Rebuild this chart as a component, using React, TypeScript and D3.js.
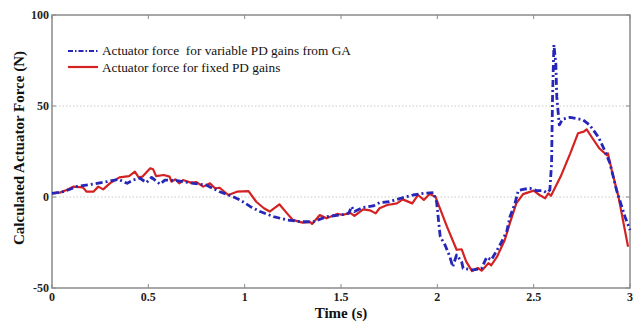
import React from "react";
import * as d3 from "d3";

// Actuator force for variable PD gains from GA (dash-dot blue)
const gaTime = [0, 0.06, 0.128, 0.215, 0.284, 0.345, 0.39, 0.42, 0.457, 0.49, 0.517, 0.56, 0.586, 0.647, 0.733, 0.8, 0.87, 0.94, 0.976, 1.03, 1.08, 1.15, 1.22, 1.29, 1.356, 1.425, 1.495, 1.54, 1.555, 1.57, 1.615, 1.667, 1.7, 1.75, 1.81, 1.875, 1.93, 1.98, 1.996, 2.015, 2.04, 2.065, 2.08, 2.1, 2.126, 2.134, 2.186, 2.23, 2.256, 2.28, 2.325, 2.36, 2.377, 2.403, 2.42, 2.445, 2.48, 2.515, 2.55, 2.567, 2.584, 2.593, 2.598, 2.605, 2.615, 2.62, 2.633, 2.65, 2.69, 2.72, 2.757, 2.79, 2.835, 2.86, 2.896, 2.93, 2.974, 3.0];
const gaForce = [2, 2.9, 5.7, 7.1, 8.4, 9.7, 7.5, 9.3, 10.3, 7.9, 10.8, 7.1, 9.3, 9, 7.5, 6.6, 2.9, 0.2, -1.6, -5.3, -8, -10.8, -12.6, -13.6, -13.6, -10.8, -9.9, -9, -5.3, -8, -5.7, -4.9, -3.1, -2.6, -0.7, 1.1, 2, 2.4, -2.6, -21.8, -26.4, -32.8, -38.3, -31.9, -35.5, -39.2, -40.1, -39.2, -33.1, -34.6, -26.4, -19, -10.8, -3.5, 3.5, 4.2, 4.8, 3.5, 3.5, 2.4, 3.8, 18.5, 55, 83.5, 73.5, 55, 39.6, 42.7, 43.8, 43.2, 42.3, 39.6, 33.1, 27.6, 18.5, 3.8, -10.8, -18.1];

// Actuator force for fixed PD gains (solid red)
const fixedTime = [0, 0.04, 0.076, 0.11, 0.16, 0.18, 0.215, 0.24, 0.266, 0.3, 0.35, 0.4, 0.43, 0.45, 0.47, 0.51, 0.525, 0.54, 0.58, 0.61, 0.62, 0.64, 0.66, 0.68, 0.72, 0.75, 0.785, 0.82, 0.846, 0.87, 0.915, 0.96, 1.02, 1.06, 1.1, 1.13, 1.18, 1.22, 1.25, 1.3, 1.34, 1.35, 1.39, 1.425, 1.48, 1.51, 1.546, 1.57, 1.615, 1.65, 1.68, 1.7, 1.74, 1.79, 1.82, 1.87, 1.9, 1.93, 1.96, 1.99, 2.05, 2.1, 2.126, 2.15, 2.18, 2.21, 2.23, 2.265, 2.28, 2.31, 2.35, 2.376, 2.41, 2.445, 2.5, 2.53, 2.56, 2.576, 2.59, 2.64, 2.69, 2.73, 2.76, 2.775, 2.8, 2.84, 2.88, 2.885, 2.905, 2.94, 2.99];
const fixedForce = [2, 2.4, 3.8, 5.7, 5.3, 2.9, 2.9, 5.7, 4.2, 7.5, 10.8, 11.5, 13.9, 10.8, 11.2, 15.8, 15.2, 11.5, 12.1, 11.2, 8.4, 9.7, 7.5, 9.3, 7.9, 8.2, 5.7, 7.5, 4.8, 5.1, 1.1, 2.9, 3.2, -2.6, -6.2, -8, -4, -9, -12.6, -14.1, -13.7, -14.8, -9.9, -11.7, -9.3, -9.9, -8.6, -10.4, -6.8, -7.3, -9, -6.2, -4.4, -3.5, -1.3, -3.5, 1.1, -1.6, 1.6, 0.2, -16.3, -29, -28.7, -35.5, -40.7, -39, -40.5, -36.4, -37.5, -32.8, -23.6, -14.5, -3.5, 1.6, 3.5, 1.1, -0.7, 2, 0.7, 11.2, 24, 35, 35.9, 37.2, 33.1, 26.8, 23, 24, 14.8, 0.2, -27.3];

const xTicks = [0, 0.5, 1, 1.5, 2, 2.5, 3];
const yTicks = [-50, 0, 50, 100];
const yGrid = [0, 50];

const W = 638;
const H = 322;
const m = { left: 52, right: 8, top: 15, bottom: 34 };

const FONT = "Liberation Serif";

export default function App() {
  const x = d3.scaleLinear().domain([0, 3]).range([m.left, W - m.right]);
  const y = d3.scaleLinear().domain([-50, 100]).range([H - m.bottom, m.top]);

  const line = d3
    .line<[number, number]>()
    .x((d) => x(d[0]))
    .y((d) => y(d[1]));

  const ga: [number, number][] = gaTime.map((t, i) => [t, gaForce[i]]);
  const fixed: [number, number][] = fixedTime.map((t, i) => [t, fixedForce[i]]);

  const axisColor = "#8a8a8a";

  return (
    <svg
      width={W}
      height={H}
      style={{ position: "absolute", left: 0, top: 0, background: "#fff" }}
      fontFamily={FONT}
    >
      {yGrid.map((v) => (
        <line
          key={"g" + v}
          x1={x(0)}
          x2={x(3)}
          y1={y(v)}
          y2={y(v)}
          stroke="#bbb"
          strokeWidth={0.8}
          strokeDasharray="1.5,2"
        />
      ))}
      {xTicks.map((t) => (
        <g key={"xt" + t}>
          <line x1={x(t)} x2={x(t)} y1={y(-50)} y2={y(-50) - 4} stroke={axisColor} />
          <line x1={x(t)} x2={x(t)} y1={y(100)} y2={y(100) + 4} stroke={axisColor} />
          <text
            x={x(t)}
            y={y(-50) + 13}
            textAnchor="middle"
            fontSize={12}
            fontWeight="bold"
            fill="#222"
          >
            {t}
          </text>
        </g>
      ))}
      {yTicks.map((v) => (
        <g key={"yt" + v}>
          <line x1={x(0)} x2={x(0) + 4} y1={y(v)} y2={y(v)} stroke={axisColor} />
          <line x1={x(3)} x2={x(3) - 4} y1={y(v)} y2={y(v)} stroke={axisColor} />
          <text
            x={x(0) - 3}
            y={y(v) + 4}
            textAnchor="end"
            fontSize={12}
            fontWeight="bold"
            fill="#222"
          >
            {v}
          </text>
        </g>
      ))}
      <rect
        x={x(0)}
        y={y(100)}
        width={x(3) - x(0)}
        height={y(-50) - y(100)}
        fill="none"
        stroke={axisColor}
        strokeWidth={1.5}
      />
      <path
        d={line(fixed) || ""}
        fill="none"
        stroke="#d42222"
        strokeWidth={2.2}
        strokeLinejoin="round"
      />
      <path
        d={line(ga) || ""}
        fill="none"
        stroke="#2626b8"
        strokeWidth={2.8}
        strokeDasharray="7,3,2,3"
        strokeLinejoin="round"
      />
      {/* legend */}
      <line x1={68} x2={98} y1={51} y2={51} stroke="#2626b8" strokeWidth={2} strokeDasharray="5,2,1.5,2" />
      <text x={102} y={55} fontSize={13.3} fill="#111" style={{ whiteSpace: "pre" }}>
        {"Actuator force  for variable PD gains from GA"}
      </text>
      <line x1={68} x2={98} y1={67} y2={67} stroke="#d42222" strokeWidth={2.2} />
      <text x={102} y={72} fontSize={13.3} fill="#111">
        Actuator force for fixed PD gains
      </text>
      {/* axis titles */}
      <text
        x={(x(0) + x(3)) / 2}
        y={318}
        textAnchor="middle"
        fontSize={15}
        fontWeight="bold"
        fill="#111"
      >
        Time (s)
      </text>
      <text
        transform={`translate(24,148) rotate(-90)`}
        textAnchor="middle"
        fontSize={15}
        fontWeight="bold"
        fill="#111"
      >
        Calculated Actuator Force (N)
      </text>
    </svg>
  );
}
